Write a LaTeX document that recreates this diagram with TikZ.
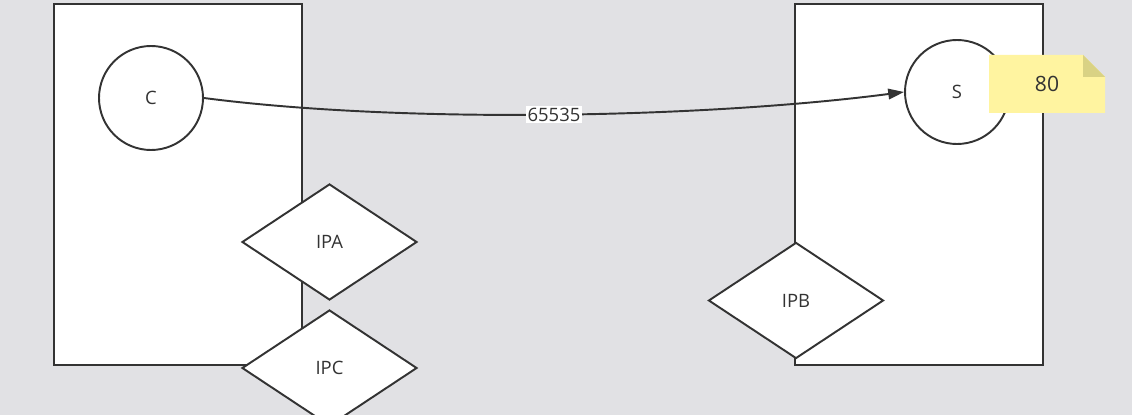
\documentclass[tikz,border=0pt]{standalone}
\usepackage{fontspec}
\setmainfont{Open Sans}
\usetikzlibrary{shapes.geometric, arrows.meta}
\definecolor{bggray}{RGB}{225,225,228}
\definecolor{linegray}{RGB}{51,51,51}
\definecolor{noteyellow}{RGB}{255,244,160}
\definecolor{notefold}{RGB}{217,210,132}

\begin{document}
\begin{tikzpicture}[
        x=0.02cm, y=-0.02cm,
        hostbox/.style={rectangle, draw=linegray, line width=1.1pt, fill=white, minimum width=248*0.02cm, minimum height=361*0.02cm},
        endpoint/.style={circle, draw=linegray, line width=1.1pt, fill=white, minimum size=104*0.02cm, inner sep=0pt, font=\fontsize{10.5}{12}\selectfont, text=linegray},
        ipaddr/.style={diamond, draw=linegray, line width=1.1pt, fill=white, minimum width=175*0.02cm, minimum height=116*0.02cm, inner sep=0pt, font=\fontsize{10.5}{12}\selectfont, text=linegray},
        portnote/.style={rectangle, minimum width=116*0.02cm, minimum height=58*0.02cm, inner sep=0pt, font=\fontsize{12}{14}\selectfont, text=linegray,
            path picture={
                \fill[noteyellow] (path picture bounding box.south west) -- (path picture bounding box.north west)
                    -- ([xshift=-0.44cm]path picture bounding box.north east) -- ([yshift=-0.44cm]path picture bounding box.north east)
                    -- (path picture bounding box.south east) -- cycle;
                \fill[notefold] ([xshift=-0.44cm]path picture bounding box.north east) -- ([yshift=-0.44cm]path picture bounding box.north east)
                    -- ([xshift=-0.44cm, yshift=-0.44cm]path picture bounding box.north east) -- cycle;
            }},
        conn/.style={-{Triangle[length=9pt, width=6pt]}, draw=linegray, line width=1.1pt},
        portlabel/.style={fill=white, inner sep=1pt, font=\fontsize{10.5}{12}\selectfont, text=linegray}
    ]

    % background and page size
    \fill[bggray] (0,0) rectangle (1132,415);
    \useasboundingbox (0,0) rectangle (1132,415);

    % the two hosts
    \node[hostbox] (client) at (178,184.5) {};
    \node[hostbox] (server) at (919,184.5) {};

    % sockets
    \node[endpoint] (c) at (151,98) {C};
    \node[endpoint] (s) at (957,92) {S};

    % addresses
    \node[ipaddr] (ipa) at (329.5,242) {IPA};
    \node[ipaddr] (ipc) at (329.5,368) {IPC};
    \node[ipaddr] (ipb) at (796,300.5) {IPB};

    % port note
    \node[portnote] (port) at (1047,84) {80};

    % connection
    \draw[conn] (c.east) .. controls +(200,26) and +(-200,26) .. node[portlabel] {65535} (s.west);

\end{tikzpicture}
\end{document}
